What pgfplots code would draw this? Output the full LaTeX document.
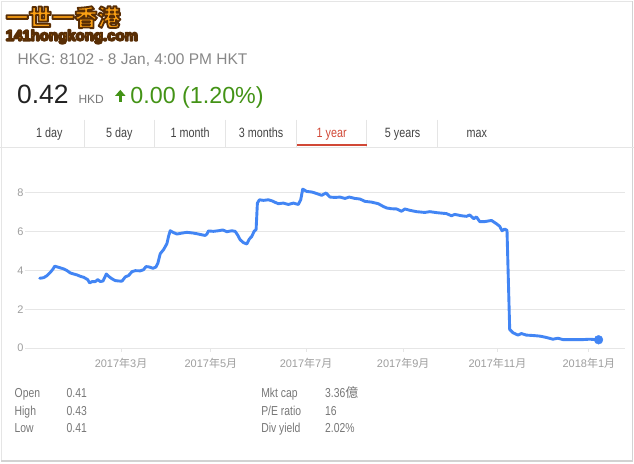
\documentclass[border=0pt]{standalone}
\usepackage{pgfplots}
\pgfplotsset{compat=1.18}
\usepackage{fontspec}
\setmainfont{Liberation Sans}
\newfontfamily\cjk{Noto Sans CJK TC}
\newfontfamily\narrow[FakeStretch=0.8]{Liberation Sans}
\definecolor{gblue}{RGB}{66,133,244}
\definecolor{gridc}{RGB}{230,230,230}
\definecolor{tickc}{RGB}{158,158,158}
\definecolor{hdrc}{RGB}{135,135,135}
\definecolor{pricec}{RGB}{34,34,34}
\definecolor{greenc}{RGB}{67,147,22}
\definecolor{tabc}{RGB}{68,68,68}
\definecolor{redc}{RGB}{209,72,54}
\definecolor{statc}{RGB}{119,119,119}
\definecolor{sepc}{RGB}{229,229,229}
\definecolor{cardc}{RGB}{210,210,210}
\definecolor{wmorange}{RGB}{250,160,20}
\newcommand{\ym}[2]{#1{\cjk 年}#2{\cjk 月}}
% outlined text: fill + stroke text rendering mode
\newcommand{\outl}[1]{\special{pdf:literal direct 2 Tr 1.8 w 1 j 0.35 0.18 0.02 RG}#1\special{pdf:literal direct 0 Tr}}
\begin{document}
\begin{tikzpicture}[x=1pt,y=1pt]
\fill[white] (0,0) rectangle (634,-464);
% card borders
\draw[sepc, line width=1pt] (0.8,-1) -- (632.5,-1);
\draw[sepc, line width=1pt] (1.2,-1) -- (1.2,-461.5);
\draw[cardc, line width=1.2pt] (632.8,-1) -- (632.8,-461.5);
\draw[cardc, line width=1.2pt] (1,-461.8) -- (633,-461.8);
% watermark
\node[anchor=base west, inner sep=0, text=wmorange, font=\cjk\bfseries\fontsize{23}{25}\selectfont] at (5,-26) {\outl{一世一香港}};
\node[anchor=base west, inner sep=0, text=wmorange, font=\bfseries\fontsize{15}{17}\selectfont] at (5,-40.7) {\outl{141hongkong.com}};
% header
\node[anchor=base west, inner sep=0, text=hdrc, font=\fontsize{15.5}{18}\selectfont] at (17,-64.3) {HKG: 8102 - 8 Jan, 4:00 PM HKT};
\node[anchor=base west, inner sep=0, text=pricec, font=\fontsize{26.5}{30}\selectfont] at (16.5,-104) {0.42};
\node[anchor=base west, inner sep=0, text=statc, font=\fontsize{12}{14}\selectfont] at (78,-104) {HKD};
\fill[greenc] (114.8,-96) -- (120,-90) -- (125.2,-96) -- cycle;
\fill[greenc] (118.6,-95.5) rectangle (121.4,-101.7);
\node[anchor=base west, inner sep=0, text=greenc, font=\fontsize{23.3}{27}\selectfont] at (130,-104) {0.00 (1.20\%)};
% tabs
\foreach \x in {84.3,154.3,225.7,296,367,437.7}{\draw[sepc, line width=1pt] (\x,-120) -- (\x,-147);}
\draw[sepc, line width=1pt] (0,-147.5) -- (634,-147.5);
\fill[redc] (296.7,-144.3) rectangle (367,-146.6);
\foreach \x/\t in {49/1 day,119/5 day,190/1 month,261/3 months,402.7/5 years,477/max}{%
  \node[anchor=base, inner sep=0, text=tabc, font=\narrow\fontsize{13.5}{16}\selectfont] at (\x,-137.3) {\t};}
\node[anchor=base, inner sep=0, text=redc, font=\narrow\fontsize{13.5}{16}\selectfont] at (331.7,-137.3) {1 year};
% stats
\foreach \y/\a/\b/\c/\d in {398.3/Open/0.41/Mkt cap/3.36{\cjk 億},416/High/0.43/P\slash E ratio/16,433.6/Low/0.41/Div yield/2.02\%}{%
  \node[anchor=base west, inner sep=0, text=statc, font=\narrow\fontsize{13}{15}\selectfont] at (14,-\y) {\a};
  \node[anchor=base west, inner sep=0, text=statc, font=\narrow\fontsize{13}{15}\selectfont] at (66,-\y) {\b};
  \node[anchor=base west, inner sep=0, text=statc, font=\narrow\fontsize{13}{15}\selectfont] at (261,-\y) {\c};
  \node[anchor=base west, inner sep=0, text=statc, font=\narrow\fontsize{13}{15}\selectfont] at (325,-\y) {\d};}
\begin{axis}[at={(25pt,-348.7pt)}, anchor=south west, scale only axis,
  width=600pt, height=188.7pt, xmin=25, xmax=625, ymin=0, ymax=9.677,
  ytick={0,2,4,6,8},
  xtick={120.7,210.7,306,403.3,497.7,589.3},
  xticklabels={\ym{2017}{3},\ym{2017}{5},\ym{2017}{7},\ym{2017}{9},\ym{2017}{11},\ym{2018}{1}},
  ymajorgrids, grid style={gridc, line width=1pt},
  axis line style={draw=none}, tick pos=left,
  ytick style={draw=none}, xtick style={gridc, line width=1pt},
  major tick length=3.5pt, tick align=outside,
  ticklabel style={font=\fontsize{11}{13}\selectfont, text=tickc},
  yticklabel style={xshift=5pt},
  xticklabel style={yshift=-3pt},
  /pgf/number format/assume math mode=true, clip=false]
\addplot[gblue, line width=2.9pt, line join=round, line cap=round] table {
x y
39.3 3.59
43.3 3.62
46.7 3.73
50 3.90
52.7 4.07
54.3 4.21
58.3 4.15
63.3 4.07
66.7 3.98
70 3.86
73.3 3.81
76.7 3.76
80 3.69
83.3 3.64
87.3 3.52
89.3 3.35
91.7 3.42
95 3.42
97.3 3.52
100 3.42
102.7 3.45
106 3.81
108.3 3.69
111.7 3.56
115 3.47
118.3 3.45
121.7 3.44
125 3.66
128.3 3.73
131.7 3.93
135 3.98
140 3.97
143.3 4.03
145.7 4.19
149 4.17
152.7 4.10
155.7 4.17
157.7 4.38
160 4.85
163.3 5.06
166.7 5.37
168.3 5.74
170 6.03
172.7 5.95
176.7 5.86
181.7 5.91
186.7 5.95
193.3 5.91
198.3 5.86
202.7 5.81
205 5.79
206.7 5.86
208.3 6.02
213.3 6.00
218.3 6.03
222.7 6.07
226.7 5.98
231.7 6.03
235 6.00
237.3 5.83
240 5.57
243.3 5.42
246.7 5.35
249.3 5.61
251.7 5.74
254 6.00
256 6.09
257.3 7.45
259.3 7.62
263.3 7.59
268.3 7.62
271.7 7.57
275 7.49
278.3 7.42
283.3 7.45
288.3 7.38
293.3 7.45
298.3 7.38
300.7 7.62
302.7 8.17
306.7 8.05
311.7 8.02
315 7.97
321.7 7.85
326 7.97
330 7.76
335 7.74
340 7.76
345 7.69
349.3 7.76
355 7.69
360 7.66
365 7.54
371.7 7.50
378.3 7.42
383.3 7.28
386.7 7.20
391.7 7.16
396.7 7.15
401.7 7.03
405 7.15
410 7.08
416.7 7.01
425 6.97
430 7.01
436.7 6.96
446.7 6.91
451.7 6.80
455 6.87
461.7 6.80
466.7 6.77
470 6.84
474 6.65
476.7 6.74
480 6.50
485 6.50
491.7 6.56
496.7 6.39
500 6.26
502.3 6.03
505 6.12
507.3 6.05
510 0.96
513.3 0.79
518.3 0.67
521.7 0.75
526.7 0.67
533.3 0.65
540 0.62
546.7 0.55
553.3 0.46
558.3 0.51
563.3 0.44
573.3 0.44
583.3 0.44
590 0.46
599 0.43
};
\addplot[only marks, mark=*, mark size=4.4pt, gblue] coordinates {(599,0.43)};
\end{axis}
\end{tikzpicture}
\end{document}
